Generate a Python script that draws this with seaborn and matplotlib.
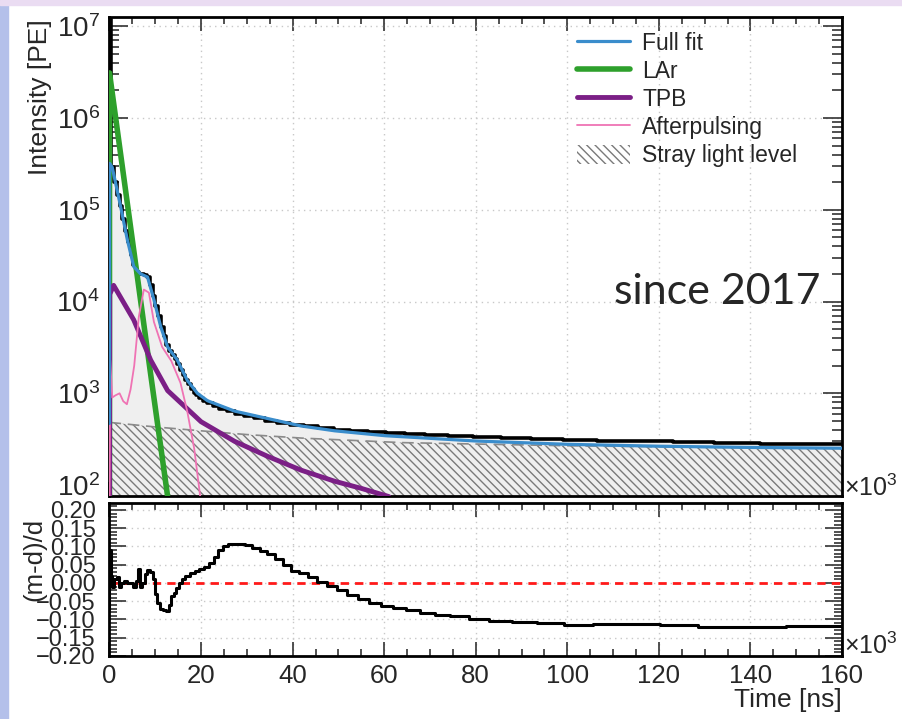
import numpy as np
import pandas as pd
import matplotlib
matplotlib.use("Agg")
import matplotlib.pyplot as plt
import matplotlib.ticker as mticker
from matplotlib.lines import Line2D
from matplotlib.patches import Patch, Rectangle
import seaborn as sns

# ---- data (time in units of 10^3 ns) ----
data_t = [0, 0, 0.4, 1.0, 1.6, 2.2, 2.8, 3.4, 4.0, 4.6, 5.2, 5.8, 6.4, 7.0, 7.6,
          8.2, 8.8, 9.4, 10.0, 10.6, 11.2, 11.8, 12.4, 13.0, 13.6, 14.2, 14.8,
          15.4, 16.0, 16.6, 17.2, 17.8, 18.4, 19.0, 19.6, 20.4, 21.4, 22.6, 24.0,
          25.6, 27.4, 29.4, 31.6, 34.0, 36.6, 39.4, 42.4, 45.6, 49.0, 52.6, 56.4,
          60.4, 64.6, 69.0, 74.0, 79.5, 85.5, 92.0, 99.0, 106.5, 114.5, 123.0,
          132.0, 142.0, 152.0, 160.0]
data_v = [470, 1.2e7, 2.9e5, 2.0e5, 1.45e5, 1.1e5, 8.0e4, 5.8e4, 4.4e4, 3.2e4,
          2.5e4, 2.1e4, 2.0e4, 2.0e4, 1.95e4, 1.85e4, 1.5e4, 1.15e4, 9.0e3, 7.0e3,
          5.3e3, 4.2e3, 3.4e3, 2.9e3, 2.6e3, 2.35e3, 2.1e3, 1.8e3, 1.6e3, 1.4e3,
          1.25e3, 1.12e3, 1.02e3, 950, 890, 830, 780, 730, 680, 640, 600, 565, 535,
          505, 480, 455, 435, 418, 403, 390, 378, 367, 357, 348, 340, 332, 324, 317,
          311, 305, 299, 293, 288, 283, 278, 278]

fit_t = [0, 0.02, 0.6, 2.4, 3.9, 5.3, 6.8, 8.3, 9.7, 11.2, 12.7, 14.8, 17.0, 19.2,
         21.4, 27.3, 34.6, 41.9, 49.2, 60.2, 80, 100, 120, 140, 160]
fit_v = [470, 3.2e5, 2.9e5, 1.1e5, 4.7e4, 2.4e4, 2.0e4, 1.85e4, 1.05e4, 5.3e3,
         3.2e3, 2.3e3, 1.38e3, 1.0e3, 830, 640, 530, 440, 390, 345, 302, 278, 265,
         257, 252]

lar_t = [0, 0, 3, 6, 9, 12.7]
lar_v = [50, 3.1e6, 2.5e5, 2.0e4, 1.6e3, 75]

tpb_t = [0, 0.05, 0.9, 5.3, 9.0, 12.7, 20.0, 27.3, 34.6, 41.9, 49.2, 55.0, 61.0]
tpb_v = [50, 1.2e4, 1.5e4, 6.3e3, 2.3e3, 1.07e3, 490, 300, 205, 145, 110, 92, 75]

ap_t = [0, 0.15, 0.6, 1.3, 2.2, 3.0, 3.8, 4.6, 5.4, 6.4, 7.5, 8.6, 9.7, 11.5,
        13.5, 15.5, 17.0, 18.5, 19.8]
ap_v = [50, 2300, 900, 950, 1000, 820, 760, 1100, 2000, 6800, 1.35e4, 1.25e4,
        6.0e3, 3.2e3, 2.25e3, 1.3e3, 630, 250, 76]

stray_t = [0, 10, 20, 30, 42, 64, 100, 130, 160]
stray_v = [482, 430, 390, 355, 325, 290, 268, 258, 251]

res_t = [0, 0, 0.3, 0.6, 1.0, 1.6, 2.0, 2.6, 3.1, 3.8, 4.6, 5.2, 5.7, 6.2, 6.7,
         7.2, 7.7, 8.3, 8.9, 9.4, 9.9, 10.4, 11.0, 11.6, 12.4, 12.9, 13.4, 14.0,
         14.6, 15.2, 15.8, 16.6, 17.6, 18.6, 19.6, 20.6, 21.8, 22.8, 23.8, 24.8,
         25.8, 29.6, 31.2, 32.8, 34.4, 36.2, 37.8, 39.6, 41.4, 43.4, 45.4, 47.4,
         49.6, 51.8, 54.2, 56.6, 59.2, 62.0, 64.8, 67.8, 71.0, 74.4, 78.6, 83.0,
         88.0, 93.4, 99.2, 105.6, 112.6, 120.2, 128.6, 137.8, 147.8, 160.0]
res_v = [-0.07, 0.09, 0.02, -0.01, 0.01, 0.015, -0.01, 0.0, 0.005, 0.0, 0.0,
         -0.01, 0.005, 0.038, -0.01, 0.0, 0.025, 0.035, 0.03, 0.01, -0.03, -0.055,
         -0.07, -0.075, -0.078, -0.06, -0.035, -0.028, -0.015, 0.0, 0.012, 0.02,
         0.027, 0.033, 0.038, 0.045, 0.055, 0.07, 0.09, 0.1, 0.107, 0.104, 0.097,
         0.088, 0.078, 0.065, 0.05, 0.033, 0.028, 0.015, 0.002, -0.008, -0.02,
         -0.033, -0.045, -0.054, -0.062, -0.068, -0.075, -0.082, -0.087, -0.09,
         -0.1, -0.105, -0.108, -0.11, -0.115, -0.112, -0.111, -0.116, -0.121,
         -0.121, -0.118, -0.118]

C_FIT = "#3a8dcc"
C_LAR = "#2ea02c"
C_TPB = "#7b1f86"
C_AP = "#ef73b4"

sns.set_style("ticks")
plt.rcParams["font.family"] = ["Liberation Sans", "DejaVu Sans"]
plt.rcParams["hatch.linewidth"] = 1.0
plt.rcParams["axes.unicode_minus"] = True

W, H = 903, 719
fig = plt.figure(figsize=(W / 100, H / 100), dpi=100, facecolor="white")

# slide background edges
fig.patches.append(Rectangle((0, 0), 8 / W, 1, transform=fig.transFigure,
                             color="#b4c0ea", zorder=0))
fig.patches.append(Rectangle((0, 1 - 5 / H), 1, 5 / H, transform=fig.transFigure,
                             color="#eadcf2", zorder=0))


def ax_rect(x0, y0, x1, y1):
    return [x0 / W, 1 - y1 / H, (x1 - x0) / W, (y1 - y0) / H]


ax = fig.add_axes(ax_rect(109.5, 17, 842, 496))
axr = fig.add_axes(ax_rect(109.5, 503, 842, 656))

# ---- top panel ----
ax.set_yscale("log")
ax.set_xlim(0, 160)
ax.set_ylim(76, 1.26e7)

ax.fill_between(data_t, data_v, 1, step="post", color="#efefef", lw=0, zorder=1)
ax.fill_between(stray_t, stray_v, 1, facecolor="none", edgecolor="#7a7a7a",
                hatch="\\\\\\\\", lw=0, zorder=2)
ax.plot(stray_t, stray_v, color="#8a8a8a", lw=1.2, ls=(0, (7, 4)), zorder=2)

df_data = pd.DataFrame({"t": data_t, "v": data_v})
sns.lineplot(data=df_data, x="t", y="v", ax=ax, color="black", lw=2.6,
             drawstyle="steps-post", estimator=None, sort=False, zorder=3)
sns.lineplot(x=fit_t, y=fit_v, ax=ax, color=C_FIT, lw=2.3, estimator=None,
             sort=False, zorder=6)
sns.lineplot(x=lar_t, y=lar_v, ax=ax, color=C_LAR, lw=4, estimator=None,
             sort=False, zorder=5)
sns.lineplot(x=tpb_t, y=tpb_v, ax=ax, color=C_TPB, lw=3.5, estimator=None,
             sort=False, zorder=5)
sns.lineplot(x=ap_t, y=ap_v, ax=ax, color=C_AP, lw=1.3, estimator=None,
             sort=False, zorder=5)

ax.set_xlabel("")
ax.set_ylabel("")
ax.xaxis.set_major_locator(mticker.MultipleLocator(20))
ax.xaxis.set_minor_locator(mticker.MultipleLocator(5))
ax.yaxis.set_major_locator(mticker.LogLocator(base=10, numticks=10))
ax.yaxis.set_minor_locator(mticker.LogLocator(base=10, subs=np.arange(2, 10), numticks=10))
ax.yaxis.set_minor_formatter(mticker.NullFormatter())
ax.tick_params(axis="both", which="both", direction="in", top=True, right=True,
               width=1.2, color="#333333")
ax.tick_params(axis="y", which="major", length=14, labelsize=20, pad=7)
ax.tick_params(axis="y", which="minor", length=7)
ax.tick_params(axis="x", which="major", length=10, labelbottom=False)
ax.tick_params(axis="x", which="minor", length=5)
ax.grid(True, which="major", ls=(0, (1, 3)), color="#c8c8c8", lw=1)
for s in ax.spines.values():
    s.set_linewidth(2)
    s.set_color("black")

handles = [Line2D([], [], color=C_FIT, lw=2.3),
           Line2D([], [], color=C_LAR, lw=4),
           Line2D([], [], color=C_TPB, lw=3.5),
           Line2D([], [], color=C_AP, lw=1.3),
           Patch(facecolor="white", edgecolor="#7a7a7a", hatch="\\\\\\\\", lw=0)]
labels = ["Full fit", "LAr", "TPB", "Afterpulsing", "Stray light level"]
ax.legend(handles, labels, loc="upper left", bbox_to_anchor=(577 / W, 1 - 32 / H),
          bbox_transform=fig.transFigure, frameon=False, fontsize=16.5,
          handlelength=2.3, handleheight=0.9, handletextpad=0.55, labelspacing=0.22,
          borderaxespad=0, borderpad=0)

fig.text(40 / W, 1 - 19 / H, "Intensity [PE]", rotation=90, ha="center", va="top",
         fontsize=19)
fig.text(821 / W, 1 - 304 / H, "since 2017", ha="right", va="baseline",
         fontsize=31, family=["Lato", "DejaVu Sans"])
fig.text(844 / W, 1 - 488 / H, r"$\mathregular{\times10^{3}}$", ha="left",
         va="center", fontsize=18)

# ---- residual panel ----
axr.set_xlim(0, 160)
axr.set_ylim(-0.2, 0.219)
axr.axhline(0, color="#ff1a1a", lw=2, ls=(0, (3, 2.2)), zorder=2)
sns.lineplot(x=res_t, y=res_v, ax=axr, color="black", lw=2.2,
             drawstyle="steps-post", estimator=None, sort=False, zorder=3)
axr.set_xlabel("")
axr.set_ylabel("")
axr.xaxis.set_major_locator(mticker.MultipleLocator(20))
axr.xaxis.set_minor_locator(mticker.MultipleLocator(5))
axr.yaxis.set_major_locator(mticker.MultipleLocator(0.05))
axr.yaxis.set_minor_locator(mticker.MultipleLocator(0.01))
axr.yaxis.set_major_formatter(mticker.FuncFormatter(
    lambda v, p: f"{v:.2f}".replace("-", "\u2212")))
axr.tick_params(axis="both", which="both", direction="in", top=True, right=True,
                width=1.2, color="#333333")
axr.tick_params(axis="y", which="major", length=12, labelsize=17, pad=10)
axr.tick_params(axis="y", which="minor", length=6)
axr.tick_params(axis="x", which="major", length=10, labelsize=18.5, pad=6)
axr.tick_params(axis="x", which="minor", length=5)
axr.grid(True, which="major", ls=(0, (1, 3)), color="#c8c8c8", lw=1)
for s in axr.spines.values():
    s.set_linewidth(2)
    s.set_color("black")

fig.text(34 / W, 1 - 518 / H, "(m-d)/d", rotation=90, ha="center", va="top",
         fontsize=18.5)
fig.text(842 / W, 1 - 700 / H, "Time [ns]", ha="right", va="center", fontsize=19)
fig.text(844 / W, 1 - 646 / H, r"$\mathregular{\times10^{3}}$", ha="left",
         va="center", fontsize=18)

fig.savefig("out.png", dpi=100, facecolor=fig.get_facecolor())
